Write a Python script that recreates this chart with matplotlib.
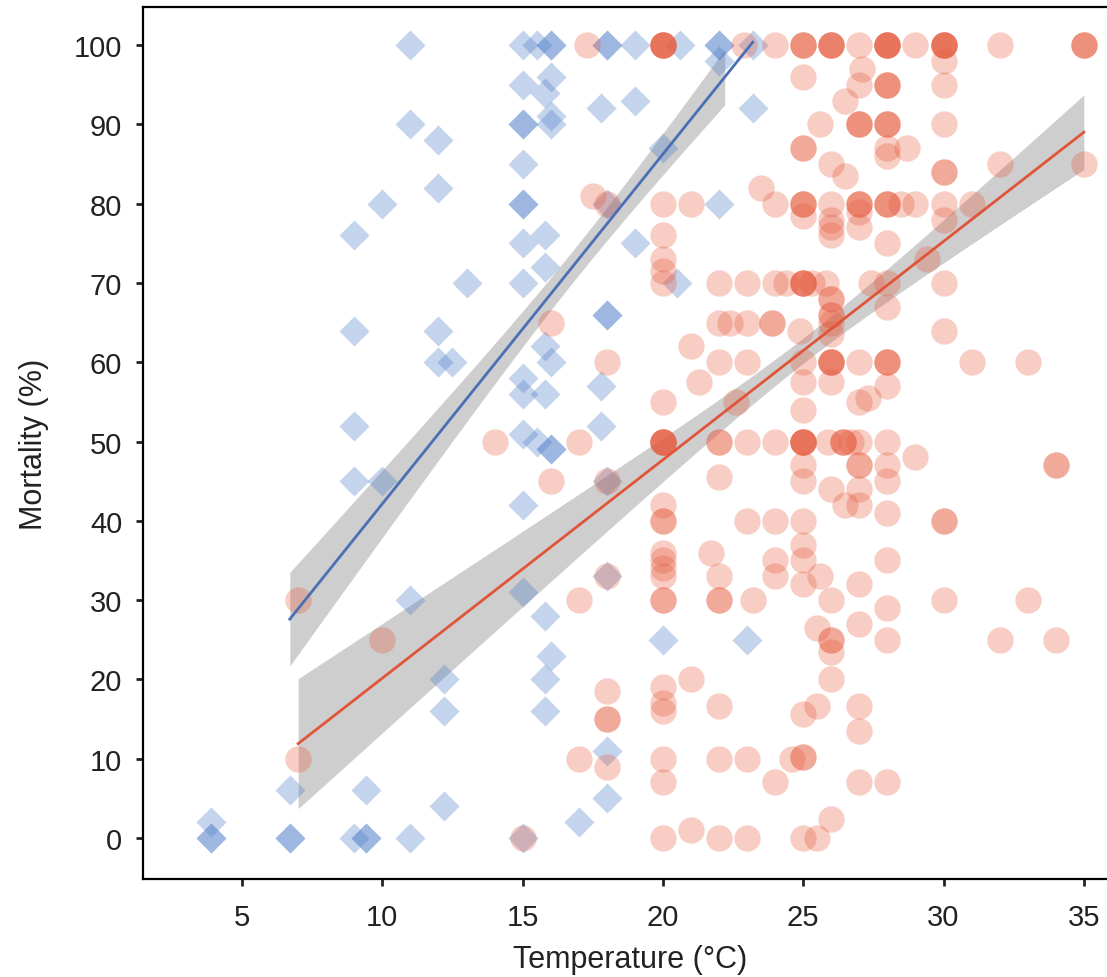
import matplotlib
matplotlib.use("Agg")
import matplotlib.pyplot as plt
import numpy as np

plt.rcParams['font.family'] = ['Liberation Sans', 'DejaVu Sans']

# blue diamonds (group 1)
blue_temp = [11, 15, 15.5, 16, 16, 18, 18, 19, 20.6, 22, 22, 22, 23.2,
             15, 16, 15.8, 17.8, 19, 23.2, 11, 12, 15, 15, 16, 16, 15, 20, 12, 10, 15, 15, 18, 22,
             9, 15, 15.8, 19, 15.8, 15, 13, 20.5, 18, 18, 9, 12, 12, 12.5, 15.8, 16, 15, 15.8, 15, 17.8,
             9, 17.8, 15, 15.5, 16, 16, 9, 10, 15, 18, 18, 11, 15, 15.8, 16, 15.8, 15.8, 12.2, 12.2,
             20, 23, 18, 18, 17, 6.7, 9.4, 12.2, 3.9, 3.9, 3.9, 6.7, 6.7, 9, 9.4, 9.4, 11, 15]
blue_mort = [100, 100, 100, 100, 100, 100, 100, 100, 100, 100, 100, 98, 100,
             95, 96, 94, 92, 93, 92, 90, 88, 90, 90, 91, 90, 85, 87, 82, 80, 80, 80, 80, 80,
             76, 75, 76, 75, 72, 70, 70, 70, 66, 66, 64, 64, 60, 60, 62, 60, 58, 56, 56, 57,
             52, 52, 51, 50, 49, 49, 45, 45, 42, 45, 33, 30, 31, 28, 23, 20, 16, 20, 16,
             25, 25, 11, 5, 2, 6, 6, 4, 2, 0, 0, 0, 0, 0, 0, 0, 0, 0]

# red circles (group 2)
red_temp = [17.3, 20, 20, 20, 20, 20, 22.9, 24, 25, 25, 25, 26, 26, 26, 26, 27, 28, 28, 28, 28, 28,
            29, 30, 30, 30, 30, 30, 32, 35, 35, 35,
            30, 30, 25, 27.1, 27, 28, 28, 28, 26.5, 27, 27, 27, 28, 28, 28, 25.6, 30, 25, 25, 28, 28.7,
            28, 26, 26.5, 30, 30, 32, 35,
            17.5, 18, 20, 21, 23.5, 24, 25, 25, 25, 26, 27, 27, 27, 28, 28, 28, 28.5, 29, 30, 31,
            25, 27, 26, 26, 26, 27, 30, 20, 28, 20, 20, 20, 22, 23, 24, 24.4, 25, 25, 25, 25, 25.3,
            25.8, 26, 26, 26, 26, 27.4, 28, 29.4, 30, 28,
            22, 22.4, 23, 23.9, 23.9, 24.9, 26, 26, 30, 21, 18, 22, 23, 25, 26, 26, 26, 26, 27, 28,
            28, 28, 31, 33, 21.3, 25, 26, 28, 27, 27.3, 22.6, 20, 25, 16,
            14, 17, 20, 20, 20, 20, 20, 22, 22, 23, 24, 25, 25, 25, 25, 25, 25.9, 26.4, 26.4, 26.4,
            26.7, 27, 28, 29, 34, 34,
            16, 18, 22, 25, 25, 27, 27, 28, 28, 26, 27, 27, 26.5, 28, 20, 20, 20, 20, 20, 20, 20,
            20, 20, 21.7, 22, 22, 22, 23, 23.2, 24, 24, 24, 25, 25, 25, 25, 25.6, 27, 28, 30, 30,
            26, 28, 27, 25.5, 26, 26, 26, 28, 30, 33, 32, 34,
            18, 17, 7, 10, 18, 18, 18, 17, 18, 7, 15,
            26, 20, 20, 20, 21, 22, 25, 25.5, 27, 27, 20, 22, 23, 24.6, 25, 25, 24, 20, 27, 28,
            26, 20, 21, 22, 23, 25, 25.5]
red_mort = [100, 100, 100, 100, 100, 100, 100, 100, 100, 100, 100, 100, 100, 100, 100, 100, 100, 100,
            100, 100, 100, 100, 100, 100, 100, 100, 100, 100, 100, 100, 100,
            98, 95, 96, 97, 95, 95, 95, 95, 93, 90, 90, 90, 90, 90, 90, 90, 90, 87, 87, 87, 87,
            86, 85, 83.5, 84, 84, 85, 85,
            81, 80, 80, 80, 82, 80, 80, 80, 80, 80, 80, 80, 80, 80, 80, 80, 80, 80, 80, 80,
            78.5, 79, 78, 77, 76, 77, 78, 76, 75, 73, 71.5, 70, 70, 70, 70, 70, 70, 70, 70, 70, 70,
            70, 68, 68, 66, 66, 70, 70, 73, 70, 67,
            65, 65, 65, 65, 65, 64, 65, 63.6, 64, 62, 60, 60, 60, 60, 60, 60, 60, 60, 60, 60,
            60, 60, 60, 60, 57.5, 57.5, 57.5, 57, 55, 55.5, 55, 55, 54, 65,
            50, 50, 50, 50, 50, 50, 50, 50, 50, 50, 50, 50, 50, 50, 50, 50, 50, 50, 50, 50,
            50, 50, 50, 48, 47, 47,
            45, 45, 45.5, 47, 45, 47, 47, 47, 45, 44, 44, 42, 42, 41, 42, 40, 40, 36, 35, 34, 33,
            30, 30, 36, 33, 30, 30, 40, 30, 40, 35, 33, 40, 37, 35, 32, 33, 32, 35, 40, 40,
            30, 29, 27, 26.5, 25, 25, 23.5, 25, 30, 30, 25, 25,
            33, 30, 30, 25, 18.5, 15, 15, 10, 9, 10, 0,
            20, 19, 17, 16, 20, 16.7, 15.6, 16.7, 16.7, 13.5, 10, 10, 10, 10, 10.2, 10.2, 7, 7, 7, 7,
            2.4, 0, 1, 0, 0, 0, 0]

# fitted lines: slope, intercept
blue_fit = [4.41, -1.95]
red_fit = [2.754, -7.38]
# confidence band half-width: min half-width, centre x, curvature
blue_ci = [2.0, 16.9, 0.296]
red_ci = [1.6, 25.07, 0.198]
# x-ranges of line and band
blue_line_range = [6.7, 23.2]
blue_band_range = [6.7, 22.2]
red_line_range = [7, 35]
red_band_range = [7, 35]

blue_col = '#4d7cc9'
red_col = '#e65a3c'

fig = plt.figure(figsize=(11.07, 9.78), dpi=100)
ax = fig.add_axes([143 / 1107, 98 / 978, 1 - 143 / 1107 + 0.01, 872 / 978])

ax.scatter(blue_temp, blue_mort, marker='D', s=235, color=blue_col, alpha=0.32,
           linewidths=0, zorder=2)
ax.scatter(red_temp, red_mort, marker='o', s=360, color=red_col, alpha=0.30,
           linewidths=0, zorder=2)

groups = [(blue_fit, blue_ci, blue_line_range, blue_band_range, '#4a6fb5'),
          (red_fit, red_ci, red_line_range, red_band_range, '#e0553a')]
for fit, ci, lrng, brng, col in groups:
    xb = np.linspace(brng[0], brng[1], 100)
    yb = fit[0] * xb + fit[1]
    hw = np.sqrt(ci[0] ** 2 + ci[2] * (xb - ci[1]) ** 2)
    ax.fill_between(xb, yb - hw, yb + hw, color='#c6c6c6', alpha=0.85,
                    linewidth=0, zorder=1)
    xl = np.array(lrng)
    ax.plot(xl, fit[0] * xl + fit[1], color=col, lw=2, zorder=4)

ax.set_xlim(1.47, 36.22)
ax.set_ylim(-5.17, 104.8)
ax.set_xticks([5, 10, 15, 20, 25, 30, 35])
ax.set_yticks(range(0, 101, 10))
ax.tick_params(labelsize=21, length=5, width=2, colors='#222222')
ax.tick_params(axis='y', pad=10)
ax.tick_params(axis='x', pad=12)
ax.spines['right'].set_visible(False)
for sp in ['left', 'bottom', 'top']:
    ax.spines[sp].set_linewidth(1.6)
ax.set_xlabel('Temperature (°C)', fontsize=22, color='#222222', labelpad=10)
ax.set_ylabel('Mortality (%)', fontsize=22, color='#222222', labelpad=18)

fig.savefig('out.png', dpi=100)
